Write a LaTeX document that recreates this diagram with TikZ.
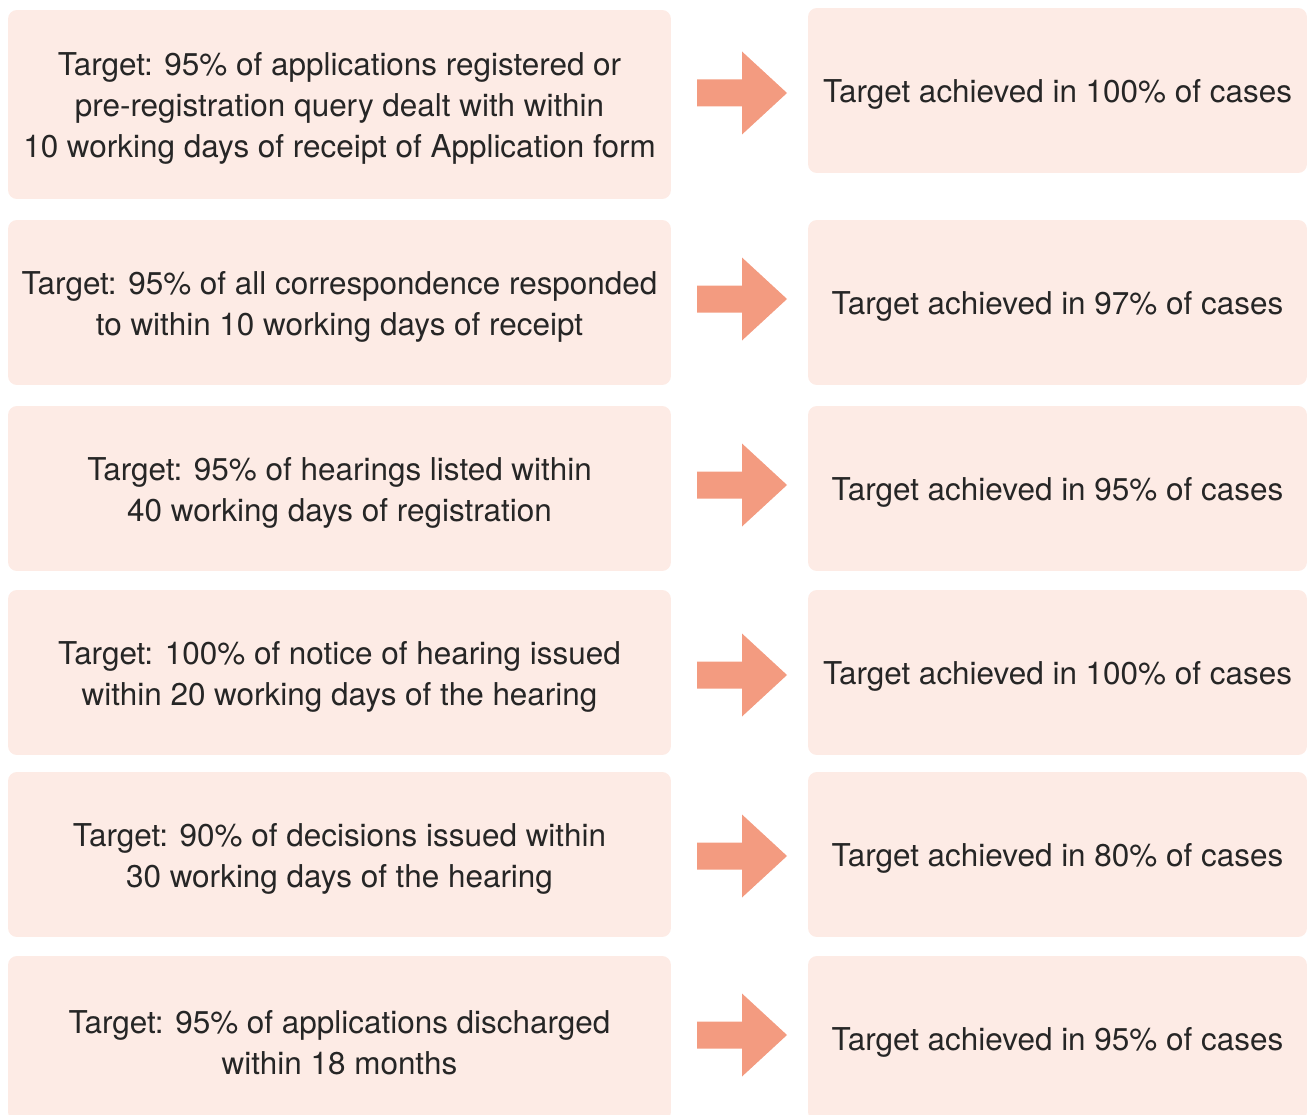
\documentclass[tikz,border=0pt]{standalone}
\usepackage{fontspec}
\setmainfont{TeX Gyre Heros}
\definecolor{boxfill}{HTML}{FDEBE5}
\definecolor{arrowfill}{HTML}{F39B80}
\newcommand{\topgap}{\rule{0pt}{17.6pt}}
\tikzset{
  target/.style={fill=boxfill, rounded corners=5pt, minimum width=13.26cm,
    minimum height=3.3cm, align=center, inner sep=0pt, text=black!85,
    font=\fontsize{17.9}{23.3}\selectfont},
  result/.style={target, minimum width=9.98cm,
    execute at begin node={\topgap}},
}
\begin{document}
\begin{tikzpicture}[x=0.02cm,y=-0.02cm]
  \useasboundingbox (0,0) rectangle (1309,1115);
  % targets
  \node[target, minimum height=3.78cm] (t1) at (339.5,104.5)
    {\topgap Target: 95\% of applications registered or\\pre-registration query dealt with within\\10 working days of receipt of Application form};
  \node[target] (t2) at (339.5,302.5)
    {\topgap Target: 95\% of all correspondence responded\\to within 10 working days of receipt};
  \node[target] (t3) at (339.5,488.5)
    {\topgap Target: 95\% of hearings listed within\\40 working days of registration};
  \node[target] (t4) at (339.5,672.5)
    {\topgap Target: 100\% of notice of hearing issued\\within 20 working days of the hearing};
  \node[target] (t5) at (339.5,854.5)
    {\topgap Target: 90\% of decisions issued within\\30 working days of the hearing};
  \node[target] (t6) at (339.5,1038.5)
    {\topgap Target: 95\% of applications discharged\\within 18 months};
  % results
  \node[result] (r1) at (1057.5,90.5) {Target achieved in 100\% of cases};
  \node[result] (r2) at (1057.5,302.5) {Target achieved in 97\% of cases};
  \node[result] (r3) at (1057.5,488.5) {Target achieved in 95\% of cases};
  \node[result] (r4) at (1057.5,672.5) {Target achieved in 100\% of cases};
  \node[result] (r5) at (1057.5,854.5) {Target achieved in 80\% of cases};
  \node[result] (r6) at (1057.5,1038.5) {Target achieved in 95\% of cases};
  % block arrows
  \foreach \c in {93,299,485,675,856,1035}
    \fill[arrowfill] (697,\c-13.5) -- (742,\c-13.5) -- (742,\c-41.5) -- (787,\c)
      -- (742,\c+41.5) -- (742,\c+13.5) -- (697,\c+13.5) -- cycle;
\end{tikzpicture}
\end{document}
